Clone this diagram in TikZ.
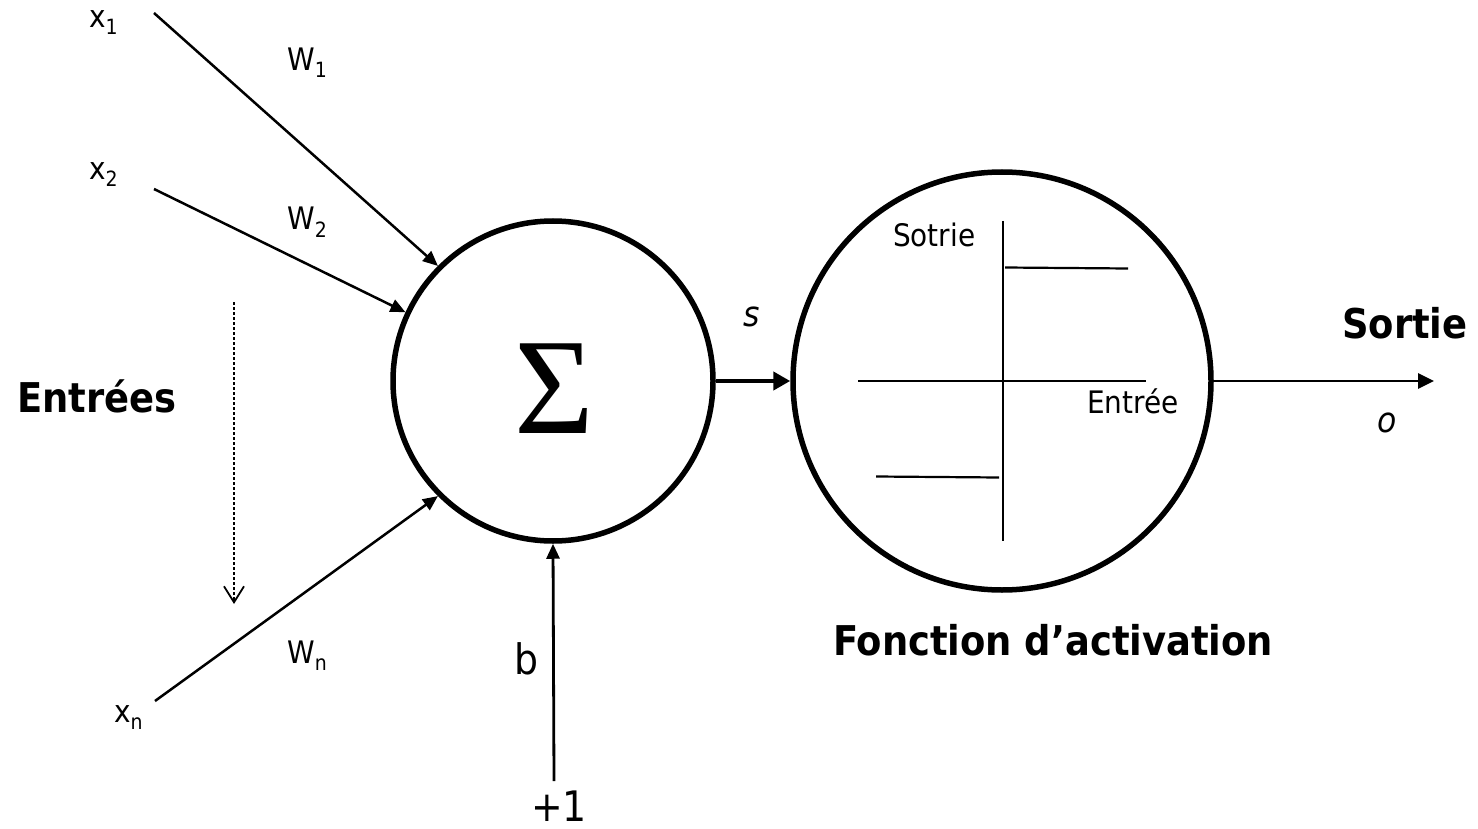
\documentclass[tikz,border=0pt]{standalone}
\usepackage{fontspec}
\setmainfont{DejaVu Sans Condensed}
\newfontfamily\sigfont{Liberation Serif}
\usetikzlibrary{arrows.meta}
\newcommand{\mysub}[1]{\raisebox{-7pt}{\fontsize{21}{21}\selectfont #1}}
\begin{document}
\begin{tikzpicture}[x=1pt,y=-1pt,
  lab/.style={inner sep=0pt, anchor=base west, font=\fontsize{31}{31}\selectfont},
  biglab/.style={inner sep=0pt, anchor=base west, font=\fontsize{42}{42}\selectfont},
  boldlab/.style={inner sep=0pt, anchor=base west, font=\fontsize{41}{41}\selectfont\bfseries},
  itlab/.style={inner sep=0pt, anchor=base west, font=\fontsize{35}{35}\selectfont\itshape},
  inlab/.style={inner sep=0pt, anchor=base west, font=\fontsize{31}{31}\selectfont},
  neuron/.style={circle, draw, line width=5.5pt, inner sep=0pt},
  inarrow/.style={line width=2.5pt, -{Triangle[length=15pt,width=13pt]}},
  thickarrow/.style={line width=4.5pt, -{Triangle[length=17pt,width=18pt]}},
  outarrow/.style={line width=2.8pt, -{Triangle[length=16pt,width=15pt]}},
  biasarrow/.style={line width=2.8pt, -{Triangle[length=15pt,width=13pt]}},
  axis/.style={line width=2.2pt},
  dotarrow/.style={line width=2pt, dash pattern=on 3pt off 2pt,
    -{Straight Barb[length=16pt,width=20pt,line width=1.8pt]}}
]
\useasboundingbox (0,0) rectangle (1478,829);

% neurons
\node[neuron, minimum size=320pt] (sum) at (553,381) {};
\node[inner sep=0pt, anchor=base] (sig) at (554,433) {\sigfont\fontsize{137}{137}\selectfont Σ};
\node[neuron, minimum size=418pt] (act) at (1002,381) {};

% input labels
\node[lab] (x1) at (89,28) {x\mysub{1}};
\node[lab] (x2) at (89,180) {x\mysub{2}};
\node[lab] (xn) at (114,722) {x\mysub{n}};
\node[lab] (w1) at (287,71) {W\mysub{1}};
\node[lab] (w2) at (287,230) {W\mysub{2}};
\node[lab] (wn) at (287,663) {W\mysub{n}};

\coordinate (x1s) at (154,13);
\coordinate (x2s) at (154,189);
\coordinate (xns) at (155,701);
\draw[inarrow] (x1s) -- (sum.135);
\draw[inarrow] (x2s) -- (sum.155);
\draw[inarrow] (xns) -- (sum.225);

% dotted arrow and Entrees
\coordinate (dtop) at (234,302);
\coordinate (dbot) at (234,604);
\draw[dotarrow] (dtop) -- (dbot);
\node[boldlab] (entrees) at (17,412) {Entrées};

% bias
\coordinate (bs) at (554,781);
\node[biglab] (b) at (514,674) {b};
\node[biglab] (plus1) at (531,821) {+1};
\draw[biasarrow] (bs) -- (sum.south);

% s
\draw[thickarrow] (sum.east) -- (act.west);
\node[itlab] (s) at (743,326) {s};

% activation inner graph
\coordinate (vt) at (1003,221);
\coordinate (vb) at (1003,541);
\coordinate (hl) at (858,381);
\coordinate (hr) at (1146,381);
\draw[axis] (vt) -- (vb);
\draw[axis] (hl) -- (hr);
\draw[axis] (1005,267.5) -- (1128,268.5);
\draw[axis] (876,476.5) -- (999,477.5);
\node[inlab] (sotrie) at (893,247) {Sotrie};
\node[inlab] (entree) at (1087,413) {Entrée};
\node[boldlab] (fonction) at (833,655) {Fonction d’activation};

% output
\coordinate (oend) at (1434,381);
\draw[outarrow] (act.east) -- (oend);
\node[boldlab] (sortie) at (1342,338) {Sortie};
\node[itlab] (o) at (1377,432) {o};
\end{tikzpicture}
\end{document}
